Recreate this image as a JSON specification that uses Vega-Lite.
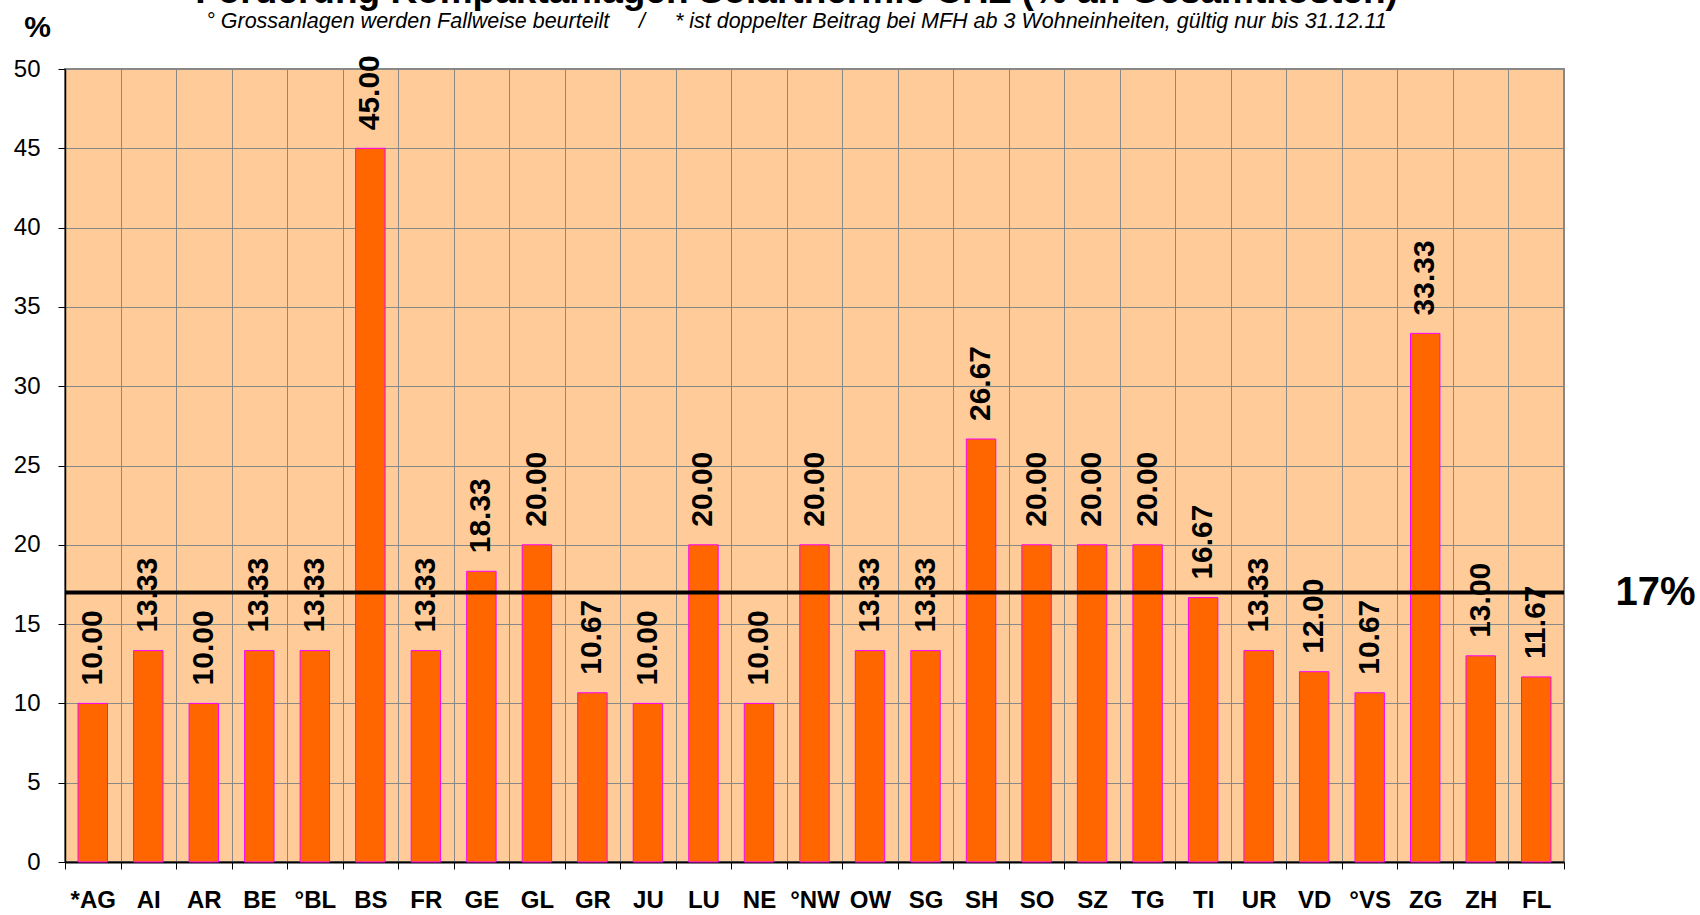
{
  "$schema": "https://vega.github.io/schema/vega-lite/v6.json",
  "autosize": {"type": "none"},
  "padding": {"left": 65, "top": 69, "right": 136, "bottom": 53},
  "width": 1499,
  "height": 793,
  "background": "white",
  "title": {
    "text": "Förderung Kompaktanlagen Solarthermie CHZ (% an Gesamtkosten)",
    "subtitle": "° Grossanlagen werden Fallweise beurteilt\u00a0\u00a0\u00a0\u00a0\u00a0/\u00a0\u00a0\u00a0\u00a0\u00a0* ist doppelter Beitrag bei MFH ab 3 Wohneinheiten, gültig nur bis 31.12.11",
    "anchor": "middle",
    "dx": -18,
    "offset": -21,
    "font": "Liberation Sans",
    "fontSize": 37,
    "fontWeight": "bold",
    "color": "black",
    "subtitleFont": "Liberation Sans",
    "subtitleFontSize": 21.5,
    "subtitleFontStyle": "italic",
    "subtitleColor": "black",
    "subtitlePadding": 0
  },
  "data": {
    "values": [
      {"k": "*AG", "v": 10.00},
      {"k": "AI", "v": 13.33},
      {"k": "AR", "v": 10.00},
      {"k": "BE", "v": 13.33},
      {"k": "°BL", "v": 13.33},
      {"k": "BS", "v": 45.00},
      {"k": "FR", "v": 13.33},
      {"k": "GE", "v": 18.33},
      {"k": "GL", "v": 20.00},
      {"k": "GR", "v": 10.67},
      {"k": "JU", "v": 10.00},
      {"k": "LU", "v": 20.00},
      {"k": "NE", "v": 10.00},
      {"k": "°NW", "v": 20.00},
      {"k": "OW", "v": 13.33},
      {"k": "SG", "v": 13.33},
      {"k": "SH", "v": 26.67},
      {"k": "SO", "v": 20.00},
      {"k": "SZ", "v": 20.00},
      {"k": "TG", "v": 20.00},
      {"k": "TI", "v": 16.67},
      {"k": "UR", "v": 13.33},
      {"k": "VD", "v": 12.00},
      {"k": "°VS", "v": 10.67},
      {"k": "ZG", "v": 33.33},
      {"k": "ZH", "v": 13.00},
      {"k": "FL", "v": 11.67}
    ]
  },
  "layer": [
    {
      "mark": {"type": "bar", "fill": "#FF6600", "stroke": "#FF00FF", "strokeWidth": 1, "width": {"band": 0.53}},
      "encoding": {
        "x": {
          "field": "k", "type": "nominal", "sort": null,
          "scale": {"paddingInner": 0, "paddingOuter": 0},
          "axis": {
            "title": null, "labelAngle": 0, "tickBand": "extent",
            "labelFont": "Liberation Sans", "labelFontSize": 24, "labelFontWeight": "bold", "labelColor": "black",
            "labelPadding": 19, "labelBaseline": "top",
            "tickSize": 7, "tickColor": "black", "tickWidth": 1,
            "domainColor": "black", "domainWidth": 2,
            "grid": true, "gridColor": "#888888", "gridWidth": 1
          }
        },
        "y": {
          "field": "v", "type": "quantitative",
          "scale": {"domain": [0, 50], "nice": false},
          "axis": {
            "values": [0, 5, 10, 15, 20, 25, 30, 35, 40, 45, 50],
            "title": "%", "titleAngle": 0, "titleX": -28, "titleY": -33, "titleAlign": "center", "titleBaseline": "alphabetic",
            "titleFont": "Liberation Sans", "titleFontSize": 30, "titleFontWeight": "bold", "titleColor": "black",
            "labelFont": "Liberation Sans", "labelFontSize": 24, "labelColor": "black", "labelPadding": 18,
            "tickSize": 7, "tickColor": "black", "tickWidth": 1,
            "domainColor": "black", "domainWidth": 1.5,
            "grid": true, "gridColor": "#888888", "gridWidth": 1
          }
        }
      }
    },
    {
      "mark": {"type": "text", "angle": 270, "align": "left", "baseline": "middle", "dx": 18, "font": "Liberation Sans", "fontSize": 30, "fontWeight": "bold", "color": "black"},
      "encoding": {
        "x": {"field": "k", "type": "nominal", "sort": null},
        "y": {"field": "v", "type": "quantitative", "axis": null},
        "text": {"field": "v", "type": "quantitative", "format": ".2f"}
      }
    },
    {
      "data": {"values": [{"ref": 17}]},
      "mark": {"type": "rule", "color": "black", "strokeWidth": 4},
      "encoding": {
        "y": {
          "field": "ref", "type": "quantitative",
          "axis": {
            "orient": "right", "values": [17], "labelExpr": "'17%'", "title": null,
            "domain": false, "ticks": false, "grid": false,
            "labelFont": "Liberation Sans", "labelFontSize": 40, "labelFontWeight": "bold", "labelColor": "black",
            "labelPadding": 51, "labelAlign": "left"
          }
        }
      }
    }
  ],
  "resolve": {"axis": {"y": "independent"}},
  "config": {
    "view": {"fill": "#FFCC99", "stroke": "#888888", "strokeWidth": 2}
  }
}
